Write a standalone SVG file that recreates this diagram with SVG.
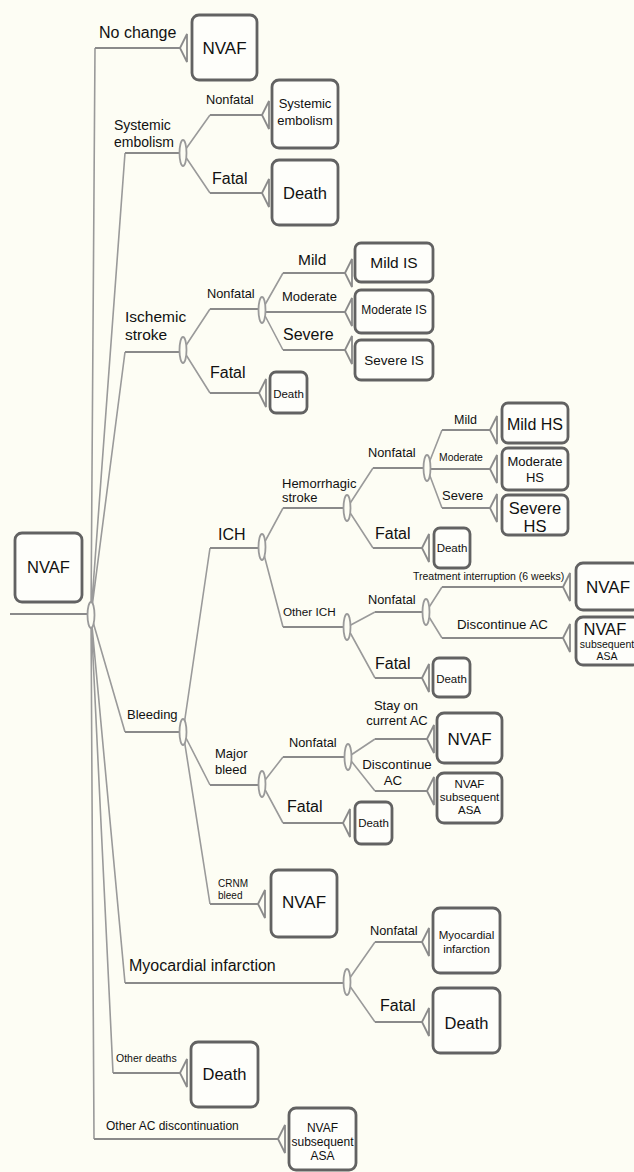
<svg xmlns="http://www.w3.org/2000/svg" xmlns:xlink="http://www.w3.org/1999/xlink" width="634" height="1172" viewBox="0 0 634 1172">
<style>
.bg{fill:#fdfdf4}
.ln{fill:none;stroke:#9a9a9a;stroke-width:1.6}
.hl{fill:none;stroke:#8a8a8a;stroke-width:2}
.tri{fill:#fdfdf4;stroke:#8a8a8a;stroke-width:1.8}
.cn{fill:#fdfdf4;stroke:#9a9a9a;stroke-width:1.8}
.box{fill:#fefefa;stroke:#626262;stroke-width:2.8}
text{font-family:"Liberation Sans",Arial,sans-serif;fill:#111}
.c{text-anchor:middle}
</style>
<defs>
<path id="tri" d="M0,0 L7,-14 L7,14 Z"/>
<ellipse id="cn" cx="0" cy="0" rx="3.5" ry="13"/>
</defs>
<rect class="bg" x="0" y="0" width="634" height="1172"/>

<g id="connectors">
<!-- root -->
<path class="hl" d="M10,614 H88"/>
<path class="ln" d="M91,615 L95,48 M91,615 L125,153 M91,615 L125,352 M91,615 L125,732 M91,615 L125,983 M91,615 L113,1073 M91,615 L94,1139"/>
<path class="hl" d="M95,48 H180 M125,153 H180 M125,352 H180 M125,732 H180 M125,983 H344 M113,1073 H180 M94,1139 H278"/>
<!-- systemic embolism -->
<path class="ln" d="M183,153 L210,115 M183,153 L210,193"/>
<path class="hl" d="M210,115 H262 M210,193 H262"/>
<!-- ischemic stroke -->
<path class="ln" d="M183,350 L210,309 M183,350 L210,393"/>
<path class="hl" d="M210,309 H259 M210,393 H259"/>
<path class="ln" d="M262,310 L283,273 M262,310 L283,350"/>
<path class="hl" d="M283,273 H345 M265,312 H345 M283,350 H345"/>
<!-- bleeding -->
<path class="ln" d="M183,732 L210,548 M183,732 L210,785 M183,732 L210,904"/>
<path class="hl" d="M210,548 H259 M210,785 H259 M210,904 H258"/>
<!-- ICH -->
<path class="ln" d="M262,547 L283,508 M262,547 L283,627"/>
<path class="hl" d="M283,508 H344 M283,627 H344"/>
<path class="ln" d="M347,508 L373,468 M347,508 L373,548"/>
<path class="hl" d="M373,468 H424 M373,548 H422"/>
<path class="ln" d="M427,468 L442,430 M427,468 L442,508"/>
<path class="hl" d="M442,430 H490 M430,469 H490 M442,508 H490"/>
<path class="ln" d="M347,627 L375,612 M347,627 L375,678"/>
<path class="hl" d="M375,612 H423 M375,678 H422"/>
<path class="ln" d="M426,612 L442,587 M426,612 L442,638"/>
<path class="hl" d="M442,587 H563 M442,638 H563"/>
<!-- major bleed -->
<path class="ln" d="M262,784 L283,757 M262,784 L283,823"/>
<path class="hl" d="M283,757 H345 M283,823 H343"/>
<path class="ln" d="M348,757 L375,739 M348,757 L375,791"/>
<path class="hl" d="M375,739 H427 M375,791 H427"/>
<!-- MI -->
<path class="ln" d="M347,982 L375,942 M347,982 L375,1022"/>
<path class="hl" d="M375,942 H422 M375,1022 H422"/>
<!-- chance nodes -->
<use class="cn" href="#cn" x="91" y="615"/>
<use class="cn" href="#cn" x="183" y="153"/>
<use class="cn" href="#cn" x="183" y="350"/>
<use class="cn" href="#cn" x="262" y="310"/>
<use class="cn" href="#cn" x="183" y="732"/>
<use class="cn" href="#cn" x="262" y="547"/>
<use class="cn" href="#cn" x="347" y="508"/>
<use class="cn" href="#cn" x="427" y="468"/>
<use class="cn" href="#cn" x="347" y="627"/>
<use class="cn" href="#cn" x="426" y="612"/>
<use class="cn" href="#cn" x="262" y="784"/>
<use class="cn" href="#cn" x="348" y="757"/>
<use class="cn" href="#cn" x="347" y="982"/>
<!-- terminal nodes -->
<use class="tri" href="#tri" x="180" y="48"/>
<use class="tri" href="#tri" x="262" y="115"/>
<use class="tri" href="#tri" x="262" y="193"/>
<use class="tri" href="#tri" x="345" y="273"/>
<use class="tri" href="#tri" x="345" y="312"/>
<use class="tri" href="#tri" x="345" y="350"/>
<use class="tri" href="#tri" x="259" y="393"/>
<use class="tri" href="#tri" x="490" y="430"/>
<use class="tri" href="#tri" x="490" y="469"/>
<use class="tri" href="#tri" x="490" y="508"/>
<use class="tri" href="#tri" x="422" y="548"/>
<use class="tri" href="#tri" x="563" y="587"/>
<use class="tri" href="#tri" x="563" y="638"/>
<use class="tri" href="#tri" x="422" y="678"/>
<use class="tri" href="#tri" x="427" y="739"/>
<use class="tri" href="#tri" x="427" y="791"/>
<use class="tri" href="#tri" x="343" y="823"/>
<use class="tri" href="#tri" x="258" y="904"/>
<use class="tri" href="#tri" x="422" y="942"/>
<use class="tri" href="#tri" x="422" y="1022"/>
<use class="tri" href="#tri" x="180" y="1073"/>
<use class="tri" href="#tri" x="278" y="1139"/>
</g>

<g id="labels">
<text x="99" y="38" font-size="16">No change</text>
<text x="114" y="130" font-size="14">Systemic</text>
<text x="114" y="147" font-size="14">embolism</text>
<text x="206" y="104" font-size="12.8">Nonfatal</text>
<text x="212" y="184" font-size="16">Fatal</text>
<text x="125" y="322" font-size="15.5">Ischemic</text>
<text x="125" y="340" font-size="15.5">stroke</text>
<text x="207" y="298" font-size="12.8">Nonfatal</text>
<text x="210" y="378" font-size="16">Fatal</text>
<text x="298" y="265" font-size="15.5">Mild</text>
<text x="282" y="301" font-size="13">Moderate</text>
<text x="283" y="340" font-size="16">Severe</text>
<text x="127" y="719" font-size="13">Bleeding</text>
<text x="218" y="540" font-size="16">ICH</text>
<text x="282" y="488" font-size="13">Hemorrhagic</text>
<text x="282" y="502" font-size="13">stroke</text>
<text x="368" y="457" font-size="12.8">Nonfatal</text>
<text x="375" y="539" font-size="16">Fatal</text>
<text x="454" y="424" font-size="12.5">Mild</text>
<text x="439" y="461" font-size="10.4">Moderate</text>
<text x="442" y="500" font-size="13">Severe</text>
<text x="283" y="616" font-size="11.7">Other ICH</text>
<text x="368" y="604" font-size="12.8">Nonfatal</text>
<text x="375" y="669" font-size="16">Fatal</text>
<text x="413" y="580" font-size="10.5">Treatment interruption (6 weeks)</text>
<text x="457" y="629" font-size="13.3">Discontinue AC</text>
<text x="215" y="758" font-size="13">Major</text>
<text x="215" y="774" font-size="13">bleed</text>
<text x="289" y="747" font-size="12.8">Nonfatal</text>
<text x="287" y="812" font-size="16">Fatal</text>
<text class="c" x="396" y="710" font-size="13">Stay on</text>
<text class="c" x="397" y="725" font-size="13">current AC</text>
<text class="c" x="397" y="769" font-size="13.3">Discontinue</text>
<text class="c" x="393" y="785" font-size="13.3">AC</text>
<text x="218" y="887" font-size="10">CRNM</text>
<text x="218" y="899" font-size="10">bleed</text>
<text x="129" y="971" font-size="16">Myocardial infarction</text>
<text x="370" y="935" font-size="12.8">Nonfatal</text>
<text x="380" y="1011" font-size="16">Fatal</text>
<text x="116" y="1062" font-size="10.5">Other deaths</text>
<text x="106" y="1130" font-size="12">Other AC discontinuation</text>
</g>

<g id="n-root"><rect class="box" x="15" y="533" width="67" height="69" rx="7"/><text class="c" x="48.5" y="573" font-size="16.5">NVAF</text></g>
<g id="n-nochange"><rect class="box" x="192" y="15" width="65" height="65" rx="7"/><text class="c" x="224.5" y="54" font-size="17">NVAF</text></g>
<g id="n-se"><rect class="box" x="272" y="80" width="66" height="68" rx="7"/><text class="c" x="305" y="108" font-size="13">Systemic</text><text class="c" x="305" y="125" font-size="13">embolism</text></g>
<g id="n-se-death"><rect class="box" x="272" y="160" width="66" height="65" rx="7"/><text class="c" x="305" y="199" font-size="16.5">Death</text></g>
<g id="n-mildis"><rect class="box" x="355" y="243" width="78" height="39" rx="6"/><text class="c" x="394" y="268" font-size="15.5">Mild IS</text></g>
<g id="n-modis"><rect class="box" x="355" y="290" width="78" height="43" rx="6"/><text class="c" x="394" y="314" font-size="12">Moderate IS</text></g>
<g id="n-sevis"><rect class="box" x="355" y="340" width="78" height="40" rx="6"/><text class="c" x="394" y="365" font-size="13.5">Severe IS</text></g>
<g id="n-is-death"><rect class="box" x="270" y="372" width="37" height="41" rx="6"/><text class="c" x="288.5" y="398" font-size="11.5">Death</text></g>
<g id="n-mildhs"><rect class="box" x="502" y="403" width="66" height="40" rx="6"/><text class="c" x="535" y="430" font-size="16">Mild HS</text></g>
<g id="n-modhs"><rect class="box" x="502" y="448" width="66" height="42" rx="6"/><text class="c" x="535" y="466" font-size="13">Moderate</text><text class="c" x="535" y="482" font-size="13">HS</text></g>
<g id="n-sevhs"><rect class="box" x="502" y="495" width="66" height="40" rx="6"/><text class="c" x="535" y="514" font-size="16.5">Severe</text><text class="c" x="535" y="532" font-size="16.5">HS</text></g>
<g id="n-hs-death"><rect class="box" x="434" y="528" width="36" height="40" rx="6"/><text class="c" x="452" y="552" font-size="11.5">Death</text></g>
<g id="n-ti"><rect class="box" x="576" y="563" width="64" height="47" rx="7"/><text class="c" x="608" y="593" font-size="17">NVAF</text></g>
<g id="n-ich-asa"><rect class="box" x="576" y="617" width="64" height="48" rx="7"/><text class="c" x="605" y="635" font-size="16.5">NVAF</text><text class="c" x="607" y="648" font-size="10.5">subsequent</text><text class="c" x="607" y="660" font-size="10.5">ASA</text></g>
<g id="n-oich-death"><rect class="box" x="433" y="658" width="37" height="39" rx="6"/><text class="c" x="451.5" y="683" font-size="11.5">Death</text></g>
<g id="n-stay"><rect class="box" x="437" y="713" width="65" height="50" rx="7"/><text class="c" x="469.5" y="745" font-size="17">NVAF</text></g>
<g id="n-mb-asa"><rect class="box" x="437" y="773" width="65" height="50" rx="7"/><text class="c" x="469.5" y="788" font-size="11.5">NVAF</text><text class="c" x="469.5" y="801" font-size="11.5">subsequent</text><text class="c" x="469.5" y="814" font-size="11.5">ASA</text></g>
<g id="n-mb-death"><rect class="box" x="355" y="802" width="37" height="42" rx="6"/><text class="c" x="373.5" y="827" font-size="11.5">Death</text></g>
<g id="n-crnm"><rect class="box" x="271" y="870" width="66" height="67" rx="7"/><text class="c" x="304" y="908" font-size="17">NVAF</text></g>
<g id="n-mi"><rect class="box" x="433" y="908" width="67" height="65" rx="7"/><text class="c" x="466.5" y="939" font-size="11.5">Myocardial</text><text class="c" x="466.5" y="953" font-size="11.5">infarction</text></g>
<g id="n-mi-death"><rect class="box" x="433" y="988" width="67" height="65" rx="7"/><text class="c" x="466.5" y="1029" font-size="16.5">Death</text></g>
<g id="n-other-death"><rect class="box" x="191" y="1042" width="67" height="65" rx="7"/><text class="c" x="224.5" y="1080" font-size="16.5">Death</text></g>
<g id="n-other-asa"><rect class="box" x="289" y="1108" width="67" height="62" rx="7"/><text class="c" x="322.5" y="1132" font-size="12">NVAF</text><text class="c" x="322.5" y="1146" font-size="12">subsequent</text><text class="c" x="322.5" y="1160" font-size="12">ASA</text></g>
</svg>
